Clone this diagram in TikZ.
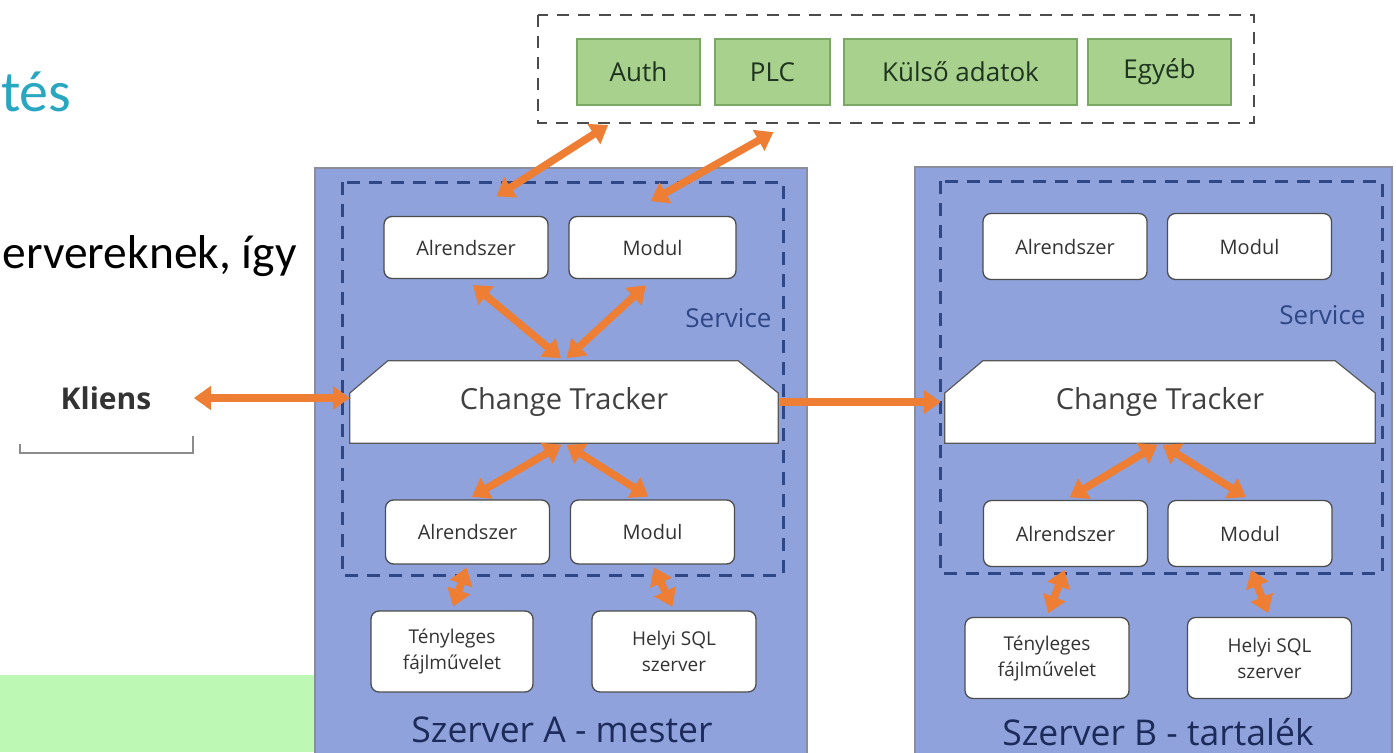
\documentclass[tikz,border=0pt]{standalone}
\usepackage{fontspec}
\setmainfont{Open Sans}
\newfontfamily\diabetu{Carlito}
\usetikzlibrary{arrows.meta,backgrounds}

\definecolor{szerverkek}{HTML}{8FA2DB}
\definecolor{szerverkeret}{HTML}{8A8E9C}
\definecolor{szolgkek}{HTML}{2E4787}
\definecolor{narancs}{HTML}{EE7E33}
\definecolor{zoldbox}{HTML}{A8D18D}
\definecolor{zoldkeret}{HTML}{7BA862}
\definecolor{zoldszoveg}{HTML}{1E3320}
\definecolor{savzold}{HTML}{BDF8B5}
\definecolor{cimkek}{HTML}{2AA7C0}
\definecolor{sotetkek}{HTML}{1D2B5B}

\tikzset{
  szerver/.style={fill=szerverkek, draw=szerverkeret, line width=1.5pt},
  szolgaltatas/.style={draw=szolgkek, line width=3pt, dash pattern=on 13pt off 9pt},
  kulsokeret/.style={draw=black!70, line width=2.6pt, dash pattern=on 12pt off 9pt},
  doboz/.style={draw=black!70, line width=1.3pt, fill=white, rounded corners=8pt,
    inner sep=2pt, minimum width=164pt, minimum height=62pt,
    font=\fontsize{20}{25}\selectfont, text=black!80, align=center},
  alsodoboz/.style={doboz, minimum height=81pt, font=\fontsize{19}{26}\selectfont},
  zold/.style={draw=zoldkeret, line width=1.2pt, fill=zoldbox, minimum height=66pt,
    font=\fontsize{26}{30}\selectfont, text=zoldszoveg},
  tracker/.style={minimum width=428pt, minimum height=82pt,
    font=\fontsize{29}{34}\selectfont, text=black!75},
  trackerforma/.style={fill=white, draw=black!65, line width=1.2pt},
  nyil/.style={draw=narancs, line width=7.5pt,
    {Triangle[width=23pt,length=17pt]}-{Triangle[width=23pt,length=17pt]}},
  egynyil/.style={draw=narancs, line width=7.5pt, -{Triangle[width=23pt,length=17pt]}},
  szervernev/.style={font=\fontsize{35.5}{42}\selectfont, text=sotetkek},
  szolgnev/.style={font=\fontsize{26}{30}\selectfont, text=szolgkek, anchor=east},
}

\begin{document}
\begin{tikzpicture}[x=1pt,y=1pt]
\clip (0,0) rectangle (1396,-752);

% a dia maradeka
\node[anchor=base east, text=cimkek, font=\diabetu\fontsize{58}{64}\selectfont] (cim) at (75,-111) {tés};
\node[anchor=base east, font=\diabetu\fontsize{47.5}{54}\selectfont] (szoveg) at (300,-268) {ervereknek, így};

% kliens
\node[font=\bfseries\fontsize{30}{34}\selectfont, text=black!80] (kliens) at (106,-398) {Kliens};
\draw[black!45, line width=1.6pt] (20,-444) -- (20,-453) -- (193,-453) -- (193,-436);

% kulso rendszerek
\node[zold, minimum width=123pt] (auth) at (638.5,-72) {Auth};
\node[zold, minimum width=115pt] (plc) at (772.5,-72) {PLC};
\node[zold, minimum width=233pt] (kulso) at (960.5,-72) {Külső adatok};
\node[zold, minimum width=143pt] (egyeb) at (1159.5,-72) {Egyéb};

% szerver A
\node[doboz] (alrA) at (466,-247.5) {Alrendszer};
\node[doboz, minimum width=167pt] (modA) at (652.5,-247.5) {Modul};
\node[tracker] (ctA) at (564,-402) {Change Tracker};
\node[doboz, minimum height=64pt] (alrA2) at (467.5,-532) {Alrendszer};
\node[doboz, minimum height=64pt] (modA2) at (652.5,-532) {Modul};
\node[alsodoboz, minimum width=162pt] (fajlA) at (452,-651.5) {Tényleges\\fájlművelet};
\node[alsodoboz] (sqlA) at (674,-651.5) {Helyi SQL\\szerver};
\node[szolgnev] (szolgA) at (775,-318) {Service};
\node[szervernev] (nevA) at (562,-730) {Szerver A - mester};

% szerver B
\node[doboz, minimum height=66pt] (alrB) at (1065,-246.5) {Alrendszer};
\node[doboz, minimum height=66pt] (modB) at (1249.5,-246.5) {Modul};
\node[tracker, minimum width=430pt] (ctB) at (1160,-402) {Change Tracker};
\node[doboz, minimum height=66pt] (alrB2) at (1065.5,-533.5) {Alrendszer};
\node[doboz, minimum height=66pt] (modB2) at (1250,-533.5) {Modul};
\node[alsodoboz] (fajlB) at (1047,-658) {Tényleges\\fájlművelet};
\node[alsodoboz] (sqlB) at (1269.5,-658) {Helyi SQL\\szerver};
\node[szolgnev] (szolgB) at (1369,-315) {Service};
\node[szervernev] (nevB) at (1158,-732) {Szerver B - tartalék};

\begin{scope}[on background layer]
\fill[white] (0,0) rectangle (1396,-752);
\fill[savzold] (0,-675) rectangle (318,-752);
\draw[kulsokeret] (538,-15) rectangle (1254,-123);
\draw[szerver] (315,-168) rectangle (807,-770);
\draw[szerver] (915,-167) rectangle (1392,-770);
\draw[szolgaltatas] (342,-182) rectangle (783,-575);
\draw[szolgaltatas] (940,-181) rectangle (1382,-573);
\foreach \ct in {ctA,ctB}
  \filldraw[trackerforma] (\ct.south west) -- ([yshift=9pt]\ct.west)
    -- ([xshift=38pt]\ct.north west) -- ([xshift=-40pt]\ct.north east)
    -- ([yshift=9pt]\ct.east) -- (\ct.south east) -- cycle;
\end{scope}

% nyilak
\draw[nyil, shorten <=39pt] (kliens.east) -- (kliens.east -| ctA.west);
\draw[nyil, shorten <=36pt, shorten >=36pt] (alrA.north) -- (auth.south);
\draw[nyil, shorten <=30pt, shorten >=54pt] ([xshift=-28pt]modA.north) -- ([xshift=48pt]plc.south);
\draw[nyil, shorten <=9pt, shorten >=4pt] (alrA.south) -- (ctA.north);
\draw[nyil, shorten <=9pt, shorten >=4pt] (modA.south) -- (ctA.north);
\draw[nyil, shorten <=3pt, shorten >=5pt] (ctA.south) -- (alrA2.north);
\draw[nyil, shorten <=3pt, shorten >=5pt] (ctA.south) -- (modA2.north);
\draw[nyil, shorten <=3pt, shorten >=4pt] (alrA2.south) -- (fajlA.north);
\draw[nyil, shorten <=3pt, shorten >=4pt] (modA2.south) -- (sqlA.north);
\draw[egynyil, shorten <=2pt, shorten >=4pt] (ctA.east) -- (ctB.west);
\draw[nyil, shorten <=3pt, shorten >=5pt] (ctB.south) -- (alrB2.north);
\draw[nyil, shorten <=3pt, shorten >=5pt] (ctB.south) -- (modB2.north);
\draw[nyil, shorten <=3pt, shorten >=4pt] (alrB2.south) -- (fajlB.north);
\draw[nyil, shorten <=3pt, shorten >=4pt] (modB2.south) -- (sqlB.north);
\end{tikzpicture}
\end{document}
